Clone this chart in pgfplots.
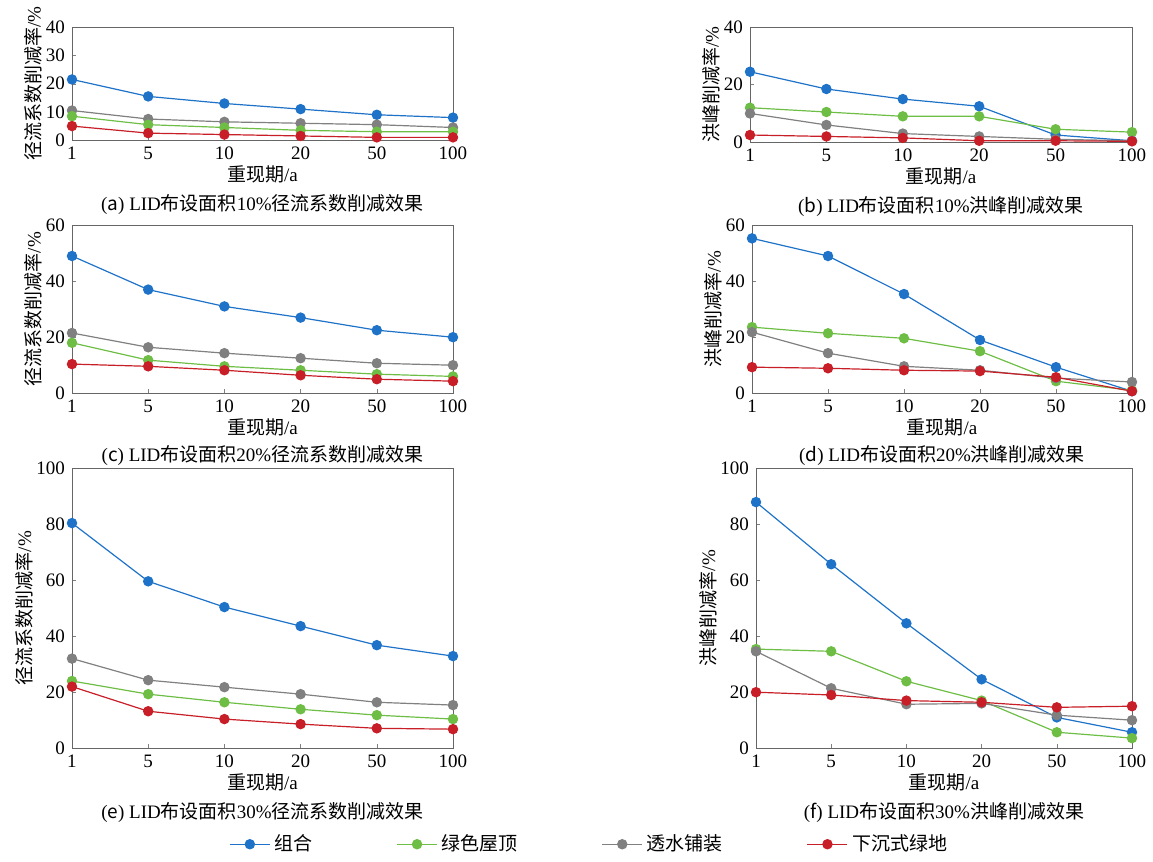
\documentclass[border=0pt]{standalone}
\usepackage{pgfplots}
\pgfplotsset{compat=1.18}
\usepackage{fontspec}
\setmainfont{Liberation Serif}
\newfontfamily\cjk{Noto Sans CJK SC}
\definecolor{cb}{RGB}{30,115,200}
\definecolor{cg}{RGB}{110,190,70}
\definecolor{cgr}{RGB}{128,128,128}
\definecolor{cr}{RGB}{200,30,40}
\newcommand\ser[2]{\addplot[color=#1,mark=*,mark size=2.3pt,line width=0.6pt] coordinates {#2};}
\pgfplotsset{p/.style={scale only axis, anchor=south west, xmin=0,xmax=5,ymin=0,xtick={0,1,2,3,4,5},
 xticklabels={1,5,10,20,50,100}, font=\fontsize{9.5}{11}\selectfont,
 /pgf/number format/assume math mode=true, major tick length=2pt, tick pos=left,
 axis line style={gray!80!black}, xlabel={{\cjk 重现期}/a}, xlabel style={yshift=4pt},
 ylabel style={yshift=-5pt}, clip=false}}
\begin{document}
\begin{tikzpicture}
\path (0pt,0pt) rectangle (576.5pt,424pt);
\begin{axis}[p,at={(36pt,360pt)},width=190.5pt,height=56.5pt,ymax=40,ytick={0,10,20,30,40},ylabel={{\cjk 径流系数削减率}/\%}]
\ser{cb}{(0,21.5)(1,15.5)(2,13)(3,11)(4,9)(5,8)}
\ser{cgr}{(0,10.5)(1,7.5)(2,6.5)(3,6)(4,5.5)(5,4.5)}
\ser{cg}{(0,8.5)(1,5.5)(2,4.5)(3,3.5)(4,3)(5,3)}
\ser{cr}{(0,5)(1,2.5)(2,2)(3,1.5)(4,1)(5,1)}
\node[font=\fontsize{9.5}{11}\selectfont] at (rel axis cs:0.5,0) [yshift=-32pt] {({\cjk a}) LID{\cjk 布设面积}10\%{\cjk 径流系数削减效果}};
\end{axis}
\begin{axis}[p,at={(375pt,359pt)},width=191pt,height=57.5pt,ymax=40,ytick={0,20,40},ylabel={{\cjk 洪峰削减率}/\%}]
\ser{cb}{(0,24.5)(1,18.5)(2,15)(3,12.5)(4,2.5)(5,0.5)}
\ser{cg}{(0,12)(1,10.5)(2,9)(3,9)(4,4.5)(5,3.5)}
\ser{cgr}{(0,10)(1,6)(2,3)(3,2)(4,1)(5,0.5)}
\ser{cr}{(0,2.5)(1,2)(2,1.5)(3,0.5)(4,0.5)(5,0.3)}
\node[font=\fontsize{9.5}{11}\selectfont] at (rel axis cs:0.5,0) [yshift=-32pt] {({\cjk b}) LID{\cjk 布设面积}10\%{\cjk 洪峰削减效果}};
\end{axis}
\begin{axis}[p,at={(36pt,233.5pt)},width=190.5pt,height=84pt,ymax=60,ytick={0,20,40,60},ylabel={{\cjk 径流系数削减率}/\%}]
\ser{cb}{(0,49)(1,37)(2,31)(3,27)(4,22.5)(5,20)}
\ser{cgr}{(0,21.5)(1,16.4)(2,14.3)(3,12.5)(4,10.7)(5,10)}
\ser{cg}{(0,18)(1,11.8)(2,9.6)(3,8.2)(4,6.8)(5,6)}
\ser{cr}{(0,10.4)(1,9.6)(2,8.2)(3,6.4)(4,5)(5,4.3)}
\node[font=\fontsize{9.5}{11}\selectfont] at (rel axis cs:0.5,0) [yshift=-31pt] {({\cjk c}) LID{\cjk 布设面积}20\%{\cjk 径流系数削减效果}};
\end{axis}
\begin{axis}[p,at={(376pt,233.5pt)},width=190pt,height=84pt,ymax=60,ytick={0,20,40,60},ylabel={{\cjk 洪峰削减率}/\%}]
\ser{cb}{(0,55.3)(1,49)(2,35.4)(3,19)(4,9.3)(5,0.7)}
\ser{cg}{(0,23.6)(1,21.4)(2,19.6)(3,15)(4,4.3)(5,1)}
\ser{cgr}{(0,21.8)(1,14.3)(2,9.6)(3,8.2)(4,5.4)(5,4)}
\ser{cr}{(0,9.3)(1,8.9)(2,8.2)(3,7.9)(4,5.7)(5,0.7)}
\node[font=\fontsize{9.5}{11}\selectfont] at (rel axis cs:0.5,0) [yshift=-31pt] {({\cjk d}) LID{\cjk 布设面积}20\%{\cjk 洪峰削减效果}};
\end{axis}
\begin{axis}[p,at={(36pt,56pt)},width=190.5pt,height=140pt,ymax=100,ytick={0,20,40,60,80,100},ylabel={{\cjk 径流系数削减率}/\%},
 legend columns=4, legend style={draw=none,at={(rel axis cs:1.36,-0.343)},anchor=center,font=\cjk\fontsize{9.5}{11}\selectfont,/tikz/every even column/.append style={column sep=40pt}},
 legend image code/.code={\draw[#1] (0pt,0pt) -- (20pt,0pt); \draw[#1,mark repeat=1] plot coordinates {(10pt,0pt)};}]
\ser{cb}{(0,80.4)(1,59.6)(2,50.4)(3,43.6)(4,36.8)(5,32.9)}
\ser{cg}{(0,24)(1,19.3)(2,16.4)(3,13.9)(4,11.8)(5,10.4)}
\ser{cgr}{(0,32)(1,24.3)(2,21.8)(3,19.3)(4,16.4)(5,15.4)}
\ser{cr}{(0,22)(1,13.2)(2,10.4)(3,8.6)(4,7.1)(5,6.8)}
\legend{组合,绿色屋顶,透水铺装,下沉式绿地}
\node[font=\fontsize{9.5}{11}\selectfont] at (rel axis cs:0.5,0) [yshift=-32pt] {({\cjk e}) LID{\cjk 布设面积}30\%{\cjk 径流系数削减效果}};
\end{axis}
\begin{axis}[p,at={(378pt,56pt)},width=188pt,height=140pt,ymax=100,ytick={0,20,40,60,80,100},ylabel={{\cjk 洪峰削减率}/\%}]
\ser{cb}{(0,87.9)(1,65.7)(2,44.6)(3,24.6)(4,11)(5,5.7)}
\ser{cg}{(0,35.4)(1,34.6)(2,23.9)(3,17)(4,5.7)(5,3.6)}
\ser{cgr}{(0,34.6)(1,21.4)(2,15.7)(3,16)(4,11.8)(5,10)}
\ser{cr}{(0,20)(1,19)(2,17)(3,16.4)(4,14.6)(5,15)}
\node[font=\fontsize{9.5}{11}\selectfont] at (rel axis cs:0.5,0) [yshift=-32pt] {({\cjk f}) LID{\cjk 布设面积}30\%{\cjk 洪峰削减效果}};
\end{axis}
\end{tikzpicture}
\end{document}
